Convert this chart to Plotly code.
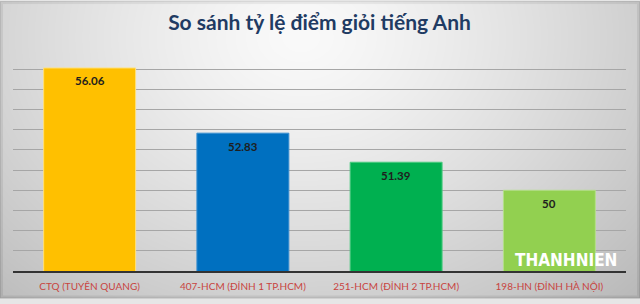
import base64, struct, zlib
import numpy as np
import plotly.graph_objects as go

categories = ["CTQ (TUYÊN QUANG)", "407-HCM (ĐỈNH 1 TP.HCM)", "251-HCM (ĐỈNH 2 TP.HCM)", "198-HN (ĐỈNH HÀ NỘI)"]
values = [56.06, 52.83, 51.39, 50]
value_labels = ["56.06", "52.83", "51.39", "50"]
bar_colors = ["#FFC000", "#0070C0", "#00B050", "#92D050"]
edge_colors = ["#FFE07A", "#3A8FD0", "#4CCB80", "#B5E08A"]
title_text = "So sánh tỷ lệ điểm giỏi tiếng Anh"
watermark = "THANHNIEN"

W, H = 640, 304
ML, MR, MT, MB = 13, 14, 49, 28
PW, PH = W - ML - MR, H - MT - MB

# background gradient image (light centre, grey edges, thin darker frame)
yy, xx = np.mgrid[0:H, 0:W].astype(float)
dx = (xx - W * 0.47) / (W * 0.62)
dy = (yy - H * 0.12) / (H * 1.05)
d = np.sqrt(dx * dx + dy * dy)
v = 250 - 52 * np.clip(d, 0, 1.3) ** 1.3
edge = np.minimum.reduce([xx, W - 1 - xx, yy, H - 1 - yy])
v = np.where(edge < 1, v - 30, v)
v = np.where((edge >= 1) & (edge < 3), v - 14, v)
v = np.clip(v, 0, 255).astype(np.uint8)
rgb = np.stack([v, v, v], axis=-1)
raw = b"".join(b"\x00" + rgb[r].tobytes() for r in range(H))

def chunk(t, data):
    c = struct.pack(">I", len(data)) + t + data
    return c + struct.pack(">I", zlib.crc32(t + data) & 0xFFFFFFFF)

png = b"\x89PNG\r\n\x1a\n" + chunk(b"IHDR", struct.pack(">IIBBBBB", W, H, 8, 2, 0, 0, 0)) \
    + chunk(b"IDAT", zlib.compress(raw, 9)) + chunk(b"IEND", b"")
bg_uri = "data:image/png;base64," + base64.b64encode(png).decode()

fig = go.Figure()
fig.add_trace(go.Bar(
    x=categories, y=values,
    marker=dict(color=bar_colors, line=dict(color=edge_colors, width=1)),
    hoverinfo="skip",
))

for c, val, lab in zip(categories, values, value_labels):
    fig.add_annotation(x=c, y=val, text=lab, showarrow=False, yshift=-13,
                       font=dict(family="Lato", size=11.5, color="#1E1E1E", weight="bold"),
                       xref="x", yref="y")

fig.add_annotation(text=watermark, x=1, y=0, xref="paper", yref="paper",
                   xanchor="right", yanchor="bottom", showarrow=False, xshift=-7, yshift=-1,
                   font=dict(family="DejaVu Sans Condensed", size=17, color="#FFFFFF", weight="bold"))

fig.add_layout_image(dict(source=bg_uri, xref="paper", yref="paper",
                          x=-ML / PW, y=1 + MT / PH, sizex=W / PW, sizey=H / PH,
                          xanchor="left", yanchor="top", sizing="stretch", layer="below"))

fig.update_layout(
    width=W, height=H,
    margin=dict(l=ML, r=MR, t=MT, b=MB, pad=0),
    paper_bgcolor="#E6E6E6", plot_bgcolor="rgba(0,0,0,0)",
    bargap=0.4, showlegend=False,
    title=dict(text=title_text, x=0.5, xref="paper", xanchor="center",
               y=1 - 23 / H, yanchor="middle",
               font=dict(family="Lato", size=21, color="#1F3B63", weight="bold")),
    xaxis=dict(showgrid=False, showline=True, linecolor="#333333", linewidth=1.5,
               ticks="", layer="below traces", ticklabelstandoff=5,
               tickfont=dict(family="Lato", size=10, color="#C8443F")),
    yaxis=dict(range=[46, 57], dtick=1, tick0=46, showticklabels=False,
               showgrid=True, gridcolor="#A6A6A6", gridwidth=1, zeroline=False, ticks=""),
)

fig.write_html("out.html")
